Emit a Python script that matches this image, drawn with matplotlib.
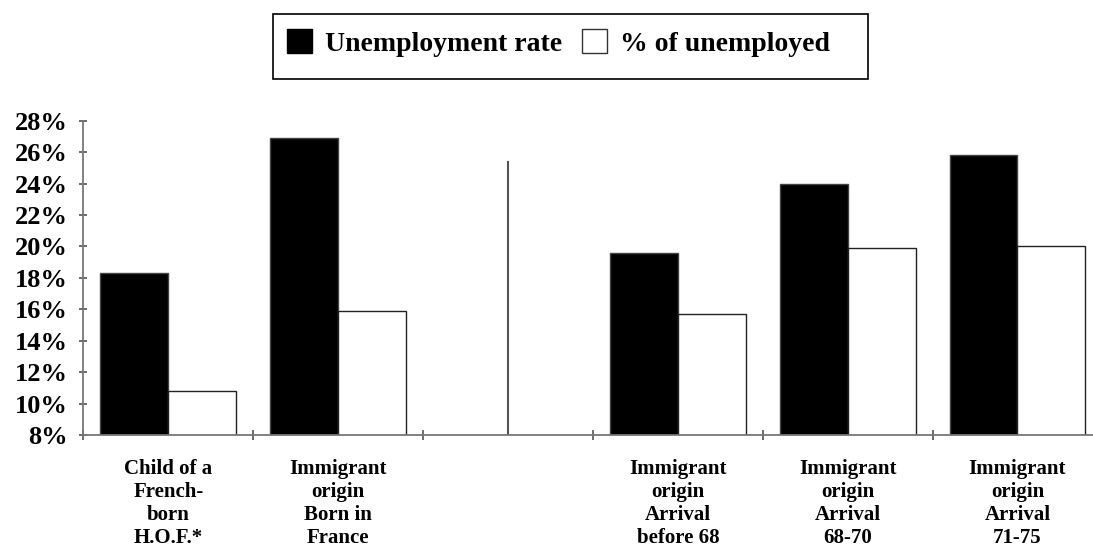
import numpy as np
import matplotlib as mpl
mpl.use('Agg')
import matplotlib.pyplot as plt
from matplotlib.patches import Patch, Rectangle

# values (percent)
categories = ["Child of a\nFrench-\nborn\nH.O.F.*",
              "Immigrant\norigin\nBorn in\nFrance",
              "",
              "Immigrant\norigin\nArrival\nbefore 68",
              "Immigrant\norigin\nArrival\n68-70",
              "Immigrant\norigin\nArrival\n71-75"]
unemployment_rate = [18.3, 26.9, np.nan, 19.6, 24.0, 25.8]
pct_unemployed = [10.8, 15.9, np.nan, 15.7, 19.9, 20.05]
divider_top = 25.4
yticks = [8, 10, 12, 14, 16, 18, 20, 22, 24, 26, 28]

plt.rcParams['font.family'] = 'Liberation Serif'
plt.rcParams['font.weight'] = 'bold'

fig = plt.figure(figsize=(10.93, 5.5), dpi=100)
ax = fig.add_axes([83.4 / 1093, 1 - 435 / 550, 1019 / 1093, (435 - 120.7) / 550])

x = np.arange(len(categories))
w = 0.4
ax.bar(x - w / 2, unemployment_rate, w, color='black', edgecolor='#444444', linewidth=1)
ax.bar(x + w / 2, pct_unemployed, w, color='white', edgecolor='#222222', linewidth=1)

# separator in the empty slot
ax.plot([2, 2], [8, divider_top], color='#555555', linewidth=1.5)

ax.set_xlim(-0.5, 5.5)
ax.set_ylim(8, 28)
ax.set_yticks(yticks)
ax.set_yticklabels(["{0}%".format(t) for t in yticks])

ax.set_xticks(np.arange(-0.5, 6, 1))
ax.set_xticklabels([])
ax.set_xticks(x, minor=True)
ax.set_xticklabels(categories, minor=True, fontsize=15, linespacing=1.2)
ax.tick_params(axis='x', which='minor', length=0, pad=17)
ax.tick_params(axis='x', which='major', direction='inout', length=7.5, width=1.1, color='#444444')
ax.tick_params(axis='y', direction='inout', length=6, width=1.1, color='#444444', labelsize=19, pad=8)

for s in ['top', 'right']:
    ax.spines[s].set_visible(False)
for s in ['left', 'bottom']:
    ax.spines[s].set_color('#777777')
    ax.spines[s].set_linewidth(1.3)

# legend with its own frame
fig.add_artist(Rectangle((273 / 1093, 1 - 79 / 550), 595 / 1093, 65 / 550,
                         transform=fig.transFigure, facecolor='white',
                         edgecolor='black', linewidth=1.2))
handles = [Patch(facecolor='black', edgecolor='black', label='Unemployment rate'),
           Patch(facecolor='white', edgecolor='#333333', label='% of unemployed')]
fig.legend(handles=handles, loc='center left', bbox_to_anchor=(287 / 1093, 1 - 43 / 550),
           ncol=2, frameon=False, fontsize=20, borderpad=0, borderaxespad=0,
           handlelength=0.9, handleheight=0.9, handletextpad=0.47, columnspacing=0.72)

plt.savefig('out.png', dpi=100)
